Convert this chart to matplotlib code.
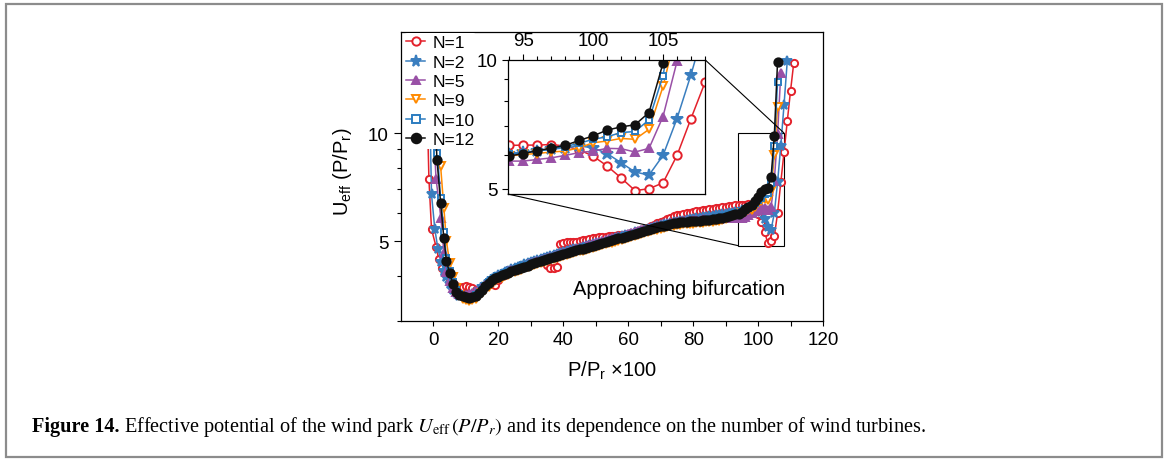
import numpy as np
import matplotlib
matplotlib.use("Agg")
import matplotlib.pyplot as plt
from matplotlib.patches import Rectangle
from matplotlib.ticker import FixedLocator, FixedFormatter, NullFormatter
from mpl_toolkits.axes_grid1.inset_locator import mark_inset

plt.rcParams['font.family'] = ['Liberation Sans', 'DejaVu Sans']
plt.rcParams['mathtext.fontset'] = 'custom'
plt.rcParams['mathtext.rm'] = 'Liberation Sans'
plt.rcParams['mathtext.it'] = 'Liberation Sans:italic'

# series labels
labels = ["N=1", "N=2", "N=5", "N=9", "N=10", "N=12"]

# first few points of each curve sit at irregular P/Pr values, the rest is one per unit from 4 on
n1_x_head = [-2.0, -1.4, -0.6, 0.8, 1.6, 2.7]
n1_u = [12.5, 7.45, 5.4, 4.83, 4.47, 4.22,
        4.05, 3.92, 3.82, 3.76, 3.73, 3.74, 3.76, 3.74, 3.70, 3.66,
        3.66, 3.69, 3.75, 3.81, 3.81, 3.78, 3.89, 4.01, 4.07, 4.12,
        4.16, 4.19, 4.23, 4.26, 4.29, 4.32, 4.35, 4.38, 4.41, 4.43,
        4.40, 4.30, 4.22, 4.21, 4.24, 4.90, 4.96, 4.98, 4.98, 4.98,
        4.99, 5.01, 5.03, 5.05, 5.07, 5.09, 5.11, 5.13, 5.14, 5.15,
        5.16, 5.17, 5.18, 5.19, 5.20, 5.22, 5.24, 5.27, 5.30, 5.34,
        5.38, 5.42, 5.46, 5.51, 5.56, 5.61, 5.66, 5.71, 5.76, 5.81,
        5.86, 5.90, 5.93, 5.96, 5.99, 6.01, 6.03, 6.05, 6.07, 6.09,
        6.11, 6.13, 6.15, 6.17, 6.19, 6.21, 6.23, 6.25, 6.27, 6.29,
        6.31, 6.32, 6.32, 6.34, 6.29, 6.16, 5.96, 5.65, 5.30, 4.95,
        5.00, 5.16, 5.98, 7.29, 8.85, 10.8, 13.1, 15.7]

n2_x_head = [-1.2, -0.6, 0.4, 1.4, 2.4, 3.3]
n2_u = [12.5, 6.75, 5.42, 4.75, 4.38, 4.12,
        3.98, 3.81, 3.67, 3.58, 3.53, 3.51, 3.51, 3.52, 3.55, 3.59,
        3.65, 3.72, 3.79, 3.86, 3.92, 3.97, 4.02, 4.06, 4.10, 4.14,
        4.18, 4.21, 4.25, 4.28, 4.31, 4.34, 4.37, 4.40, 4.43, 4.46,
        4.49, 4.52, 4.55, 4.58, 4.61, 4.64, 4.67, 4.70, 4.72, 4.75,
        4.77, 4.80, 4.82, 4.85, 4.88, 4.90, 4.93, 4.95, 4.98, 5.01,
        5.04, 5.07, 5.10, 5.13, 5.16, 5.19, 5.22, 5.25, 5.29, 5.32,
        5.35, 5.38, 5.41, 5.45, 5.48, 5.51, 5.54, 5.57, 5.60, 5.63,
        5.65, 5.67, 5.69, 5.71, 5.73, 5.75, 5.77, 5.79, 5.81, 5.83,
        5.85, 5.87, 5.89, 5.91, 5.93, 5.95, 5.97, 5.99, 6.01, 6.03,
        6.04, 6.09, 6.12, 6.18, 6.23, 6.29, 6.23, 6.04, 5.75, 5.47,
        5.38, 5.98, 7.29, 9.23, 12.0, 15.9]

n5_x_head = [-0.5, 0.8, 2.3, 3.2]
n5_u = [12.5, 7.45, 5.8, 4.65,
        4.10, 3.87, 3.71, 3.61, 3.56, 3.54, 3.54, 3.56, 3.59, 3.63,
        3.67, 3.72, 3.78, 3.84, 3.90, 3.95, 4.00, 4.04, 4.08, 4.12,
        4.15, 4.19, 4.22, 4.25, 4.28, 4.31, 4.34, 4.37, 4.40, 4.43,
        4.46, 4.49, 4.52, 4.55, 4.58, 4.61, 4.65, 4.68, 4.71, 4.74,
        4.77, 4.80, 4.83, 4.86, 4.89, 4.92, 4.95, 4.98, 5.01, 5.03,
        5.06, 5.09, 5.12, 5.15, 5.18, 5.21, 5.24, 5.27, 5.30, 5.33,
        5.36, 5.39, 5.42, 5.45, 5.48, 5.51, 5.54, 5.57, 5.59, 5.61,
        5.63, 5.65, 5.67, 5.69, 5.70, 5.71, 5.72, 5.73, 5.74, 5.75,
        5.76, 5.77, 5.77, 5.78, 5.78, 5.79, 5.79, 5.80, 5.80, 5.80,
        5.80, 5.80, 5.85, 5.90, 5.98, 6.07, 6.12, 6.21, 6.20, 6.09,
        6.21, 7.37, 9.91, 14.7]

n9_x_head = [0.5, 1.3, 2.2, 3.2]
n9_u = [12.5, 10.0, 8.1, 6.2,
        5.00, 4.35, 3.97, 3.70, 3.54, 3.46, 3.43, 3.42, 3.43, 3.46,
        3.51, 3.58, 3.66, 3.74, 3.81, 3.87, 3.92, 3.96, 4.00, 4.04,
        4.08, 4.11, 4.14, 4.17, 4.20, 4.23, 4.26, 4.29, 4.32, 4.35,
        4.38, 4.41, 4.44, 4.47, 4.50, 4.53, 4.56, 4.58, 4.61, 4.63,
        4.66, 4.69, 4.71, 4.74, 4.76, 4.79, 4.81, 4.84, 4.87, 4.90,
        4.93, 4.96, 4.99, 5.02, 5.05, 5.08, 5.11, 5.14, 5.17, 5.20,
        5.23, 5.26, 5.29, 5.33, 5.36, 5.39, 5.42, 5.45, 5.48, 5.50,
        5.52, 5.54, 5.56, 5.57, 5.58, 5.59, 5.60, 5.61, 5.62, 5.63,
        5.64, 5.65, 5.67, 5.69, 5.71, 5.74, 5.78, 5.83, 5.88, 5.93,
        5.96, 6.01, 6.04, 6.09, 6.12, 6.23, 6.40, 6.46, 6.55, 6.52,
        6.88, 8.66, 11.8]

n10_x_head = [0.3, 1.2, 2.2, 3.2]
n10_u = [12.5, 8.8, 6.6, 5.3,
         4.50, 4.12, 3.84, 3.65, 3.56, 3.51, 3.49, 3.49, 3.50, 3.54,
         3.60, 3.68, 3.76, 3.84, 3.90, 3.95, 3.99, 4.03, 4.07, 4.10,
         4.14, 4.17, 4.20, 4.23, 4.26, 4.29, 4.32, 4.35, 4.38, 4.41,
         4.44, 4.47, 4.50, 4.53, 4.56, 4.59, 4.62, 4.65, 4.67, 4.70,
         4.73, 4.75, 4.78, 4.81, 4.83, 4.86, 4.89, 4.92, 4.95, 4.98,
         5.01, 5.04, 5.07, 5.10, 5.13, 5.16, 5.19, 5.22, 5.25, 5.28,
         5.31, 5.35, 5.38, 5.42, 5.45, 5.48, 5.51, 5.54, 5.57, 5.59,
         5.61, 5.63, 5.65, 5.66, 5.67, 5.68, 5.69, 5.70, 5.71, 5.72,
         5.73, 5.75, 5.77, 5.79, 5.82, 5.85, 5.88, 5.92, 5.96, 5.99,
         6.01, 6.07, 6.12, 6.18, 6.27, 6.38, 6.52, 6.61, 6.76, 6.80,
         7.24, 9.18, 13.9]

n12_x_head = [0.2, 1.1, 2.2, 3.2]
n12_u = [12.5, 8.4, 6.4, 5.1,
         4.40, 4.07, 3.80, 3.62, 3.55, 3.51, 3.49, 3.48, 3.49, 3.53,
         3.59, 3.67, 3.75, 3.83, 3.89, 3.94, 3.98, 4.02, 4.06, 4.09,
         4.13, 4.16, 4.19, 4.22, 4.25, 4.28, 4.31, 4.34, 4.37, 4.40,
         4.44, 4.47, 4.50, 4.53, 4.56, 4.59, 4.61, 4.64, 4.67, 4.69,
         4.72, 4.75, 4.77, 4.80, 4.83, 4.85, 4.88, 4.91, 4.94, 4.97,
         5.00, 5.03, 5.06, 5.09, 5.12, 5.15, 5.18, 5.21, 5.24, 5.28,
         5.31, 5.34, 5.37, 5.41, 5.44, 5.47, 5.50, 5.53, 5.56, 5.59,
         5.61, 5.63, 5.65, 5.66, 5.67, 5.68, 5.69, 5.70, 5.71, 5.72,
         5.73, 5.74, 5.76, 5.78, 5.80, 5.82, 5.85, 5.88, 5.92, 5.94,
         5.96, 6.04, 6.13, 6.22, 6.31, 6.48, 6.64, 6.85, 6.97, 7.05,
         7.53, 9.82, 15.8]

x_heads = [n1_x_head, n2_x_head, n5_x_head, n9_x_head, n10_x_head, n12_x_head]
u_all = [n1_u, n2_u, n5_u, n9_u, n10_u, n12_u]

def full_x(head, u):
    rest = np.arange(4, 4 + len(u) - len(head))
    return np.concatenate([head, rest])

# look of each series
colors = ['#e3212b', '#3a7ebf', '#9950a6', '#ff8a00', '#2b7cc0', '#111111']
markers = ['o', '*', '^', 'v', 's', 'o']
faces = ['white', None, None, 'white', 'white', None]
ms_main = [5.2, 7.2, 5.6, 5.6, 4.6, 6.0]
ms_ins = [6.0, 8.6, 6.0, 6.4, 5.0, 6.0]

W, H = 1168, 460
fig = plt.figure(figsize=(W / 100, H / 100), dpi=100)
ax = fig.add_axes([401 / W, 1 - 322 / H, 422 / W, 289 / H])
ins = fig.add_axes([507.7 / W, 1 - 195 / H, 197.3 / W, 134.3 / H])

for i in range(len(labels)):
    x = full_x(x_heads[i], u_all[i])
    u = u_all[i]
    kw = dict(color=colors[i], marker=markers[i], lw=1.1, mew=1.4)
    if faces[i] is not None:
        kw['mfc'] = faces[i]
    ax.plot(x, u, ms=ms_main[i], label=labels[i], **kw)
    ins.plot(x, u, ms=ms_ins[i], **kw)

# main axes
ax.set_yscale('log')
ax.set_xlim(-10, 120)
ax.set_ylim(3, 19.1)
ax.xaxis.set_major_locator(FixedLocator([0, 20, 40, 60, 80, 100, 120]))
ax.xaxis.set_minor_locator(FixedLocator([10, 30, 50, 70, 90, 110]))
ax.yaxis.set_major_locator(FixedLocator([5, 10]))
ax.yaxis.set_major_formatter(FixedFormatter(['5', '10']))
ax.yaxis.set_minor_locator(FixedLocator([3, 4, 6, 7, 8, 9]))
ax.yaxis.set_minor_formatter(NullFormatter())
ax.tick_params(which='both', direction='out', labelsize=13.5, width=0.8, pad=4)
ax.tick_params(axis='y', which='major', length=5)
ax.tick_params(axis='y', which='minor', length=3)
ax.tick_params(axis='x', which='both', length=3.5)
for s in ax.spines.values():
    s.set_linewidth(0.9)

ax.set_xlabel(r'P/P$_{\rm r}$ $\times$100', fontsize=14.5)
ax.xaxis.set_label_coords(0.5, -0.13)
ax.set_ylabel(r'U$_{\rm eff}$ (P/P$_{\rm r}$)', fontsize=14.5)
ax.yaxis.set_label_coords(-0.112, 0.52)

ax.text(0.407, 0.093, 'Approaching bifurcation', transform=ax.transAxes,
        fontsize=14.5, va='baseline', ha='left')

leg = ax.legend(loc='upper left', bbox_to_anchor=(0.008, 0.995), fontsize=12.5,
                frameon=True, facecolor='white', edgecolor='none', framealpha=1,
                borderpad=0.1, handlelength=1.1, handletextpad=0.4,
                labelspacing=0.24, borderaxespad=0, markerscale=1.15)
leg.set_zorder(5)

# inset
ins.set_yscale('log')
ins.set_xlim(93.9, 108)
ins.set_ylim(4.86, 10)
ins.xaxis.tick_top()
ins.xaxis.set_major_locator(FixedLocator([95, 100, 105]))
ins.xaxis.set_minor_locator(FixedLocator(list(range(94, 109))))
ins.yaxis.set_major_locator(FixedLocator([5, 10]))
ins.yaxis.set_major_formatter(FixedFormatter(['5', '10']))
ins.yaxis.set_minor_locator(FixedLocator([6, 7, 8, 9]))
ins.yaxis.set_minor_formatter(NullFormatter())
ins.tick_params(which='both', direction='out', labelsize=13.5, width=0.8, pad=3)
ins.tick_params(which='major', length=4.5)
ins.tick_params(which='minor', length=3)
for s in ins.spines.values():
    s.set_linewidth(0.9)

mark_inset(ax, ins, loc1=1, loc2=3, fc='none', ec='black', lw=0.8)

# caption and outer frame
fig.patches.append(Rectangle((6 / W, 2 / H), 1156 / W, 453 / H, transform=fig.transFigure,
                             fill=False, ec='#8c8c8c', lw=1.6))
t1 = fig.text(32 / W, 1 - 432 / H, 'Figure 14.', fontfamily='Liberation Serif',
              fontweight='bold', fontsize=14.6, va='baseline')
fig.canvas.draw()
bb = t1.get_window_extent()
fig.text((bb.x1 + 4) / W, 1 - 432 / H,
         r'Effective potential of the wind park $U_{\rm eff}\,(P/P_r)$ and its dependence on the number of wind turbines.',
         fontfamily='Liberation Serif', fontsize=14.6, va='baseline', math_fontfamily='stix')

fig.savefig('out.png', dpi=100)
